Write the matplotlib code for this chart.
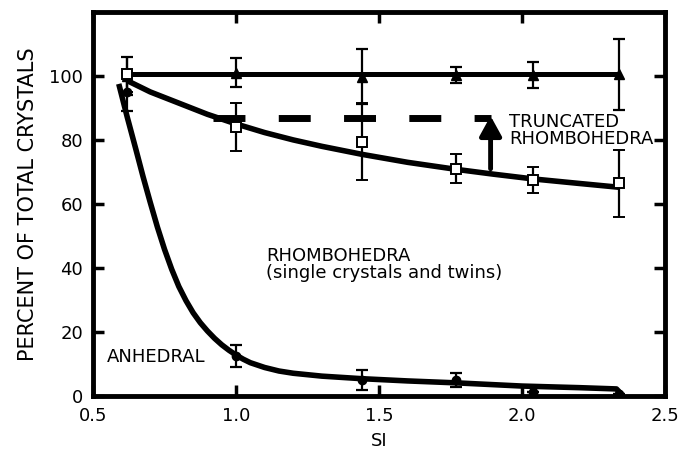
import matplotlib

matplotlib.use("Agg")
import matplotlib.pyplot as plt

# -----------------------------------------------------------------------------
# Data
# -----------------------------------------------------------------------------

SI = [0.62, 1.0, 1.44, 1.77, 2.04, 2.34]

total_pct = [100.0, 101.0, 99.8, 100.2, 100.3, 100.5]
total_err = [6.0, 4.5, 8.5, 2.5, 4.0, 11.0]

rhombo_pct = [100.5, 84.0, 79.5, 71.0, 67.5, 66.5]
rhombo_err = [5.5, 7.5, 12.0, 4.5, 4.0, 10.5]

anhedral_pct = [95.0, 12.5, 5.0, 5.0, 1.3, 0.5]
anhedral_err = [6.0, 3.5, 3.0, 2.3, 0.0, 0.0]

# fitted curves, traced point by point
total_fit_x = [0.62, 2.34]
total_fit_y = [100.5, 100.5]

rhombo_fit_x = [0.62, 0.70, 0.80, 0.90, 1.00, 1.10, 1.20, 1.30, 1.44, 1.60,
                1.77, 1.90, 2.04, 2.20, 2.34]
rhombo_fit_y = [98.5, 95.0, 91.5, 88.0, 85.0, 82.3, 80.0, 78.0, 75.5, 73.0,
                70.8, 69.3, 67.8, 66.4, 65.2]

anhedral_fit_x = [0.59, 0.62, 0.65, 0.675, 0.70, 0.725, 0.75, 0.775, 0.80,
                  0.825, 0.85, 0.875, 0.90, 0.925, 0.95, 0.975, 1.00, 1.025,
                  1.05, 1.10, 1.15, 1.20, 1.30, 1.44, 1.60, 1.77, 2.00, 2.20,
                  2.33, 2.345]
anhedral_fit_y = [97.5, 87.0, 77.0, 68.5, 60.5, 52.8, 45.8, 39.6, 34.2,
                  29.8, 26.0, 22.9, 20.3, 18.0, 16.0, 14.3, 12.8, 11.5,
                  10.4, 8.9, 7.8, 7.1, 6.2, 5.4, 4.7, 4.1, 3.1, 2.6,
                  2.2, 0.8]

truncated_level = 87.0
truncated_x = [0.92, 1.89]
arrow_x = 1.89
arrow_from = 71.0

X_TICKS = [0.5, 1.0, 1.5, 2.0, 2.5]
Y_TICKS = [0, 20, 40, 60, 80, 100]

# -----------------------------------------------------------------------------
# Style
# -----------------------------------------------------------------------------

plt.rcParams["font.family"] = ["DejaVu Sans"]
plt.rcParams["lines.scale_dashes"] = False

FONT_SIZE = 13
CURVE_LW = 4.0
ERR_KW = dict(ecolor="black", elinewidth=1.6, capsize=4, capthick=1.6)

# -----------------------------------------------------------------------------
# Plot
# -----------------------------------------------------------------------------

fig = plt.figure(figsize=(6.81, 4.54), dpi=100)
ax = fig.add_axes([0.1366, 0.1278, 0.84, 0.846])

ax.plot(total_fit_x, total_fit_y, color="black", lw=3.6, solid_capstyle="butt")
ax.plot(rhombo_fit_x, rhombo_fit_y, color="black", lw=CURVE_LW,
        solid_capstyle="butt", solid_joinstyle="round")
ax.plot(anhedral_fit_x, anhedral_fit_y, color="black", lw=CURVE_LW,
        solid_capstyle="butt", solid_joinstyle="round")

ax.errorbar(SI, total_pct, yerr=total_err, fmt="^", ms=7.5, mfc="black",
            mec="black", **ERR_KW)
ax.errorbar(SI, rhombo_pct, yerr=rhombo_err, fmt="s", ms=7, mfc="white",
            mec="black", mew=1.4, **ERR_KW)
ax.errorbar(SI, anhedral_pct, yerr=anhedral_err, fmt="o", ms=6, mfc="black",
            mec="black", **ERR_KW)

# truncated rhombohedra: dashed level and arrow
ax.plot(truncated_x, [truncated_level, truncated_level], color="black", lw=5,
        dashes=(23, 24), solid_capstyle="butt", dash_capstyle="butt")
ax.annotate(
    "",
    xy=(arrow_x, truncated_level + 0.5),
    xytext=(arrow_x, arrow_from),
    arrowprops=dict(
        arrowstyle="-|>,head_length=0.6,head_width=0.33",
        mutation_scale=20,
        lw=3.5,
        color="black",
        shrinkA=0,
        shrinkB=0,
    ),
)

ax.text(1.955, 88.3, "TRUNCATED\nRHOMBOHEDRA", ha="left", va="top",
        fontsize=FONT_SIZE, linespacing=0.9)
ax.text(1.105, 46.5, "RHOMBOHEDRA\n(single crystals and twins)", ha="left",
        va="top", fontsize=FONT_SIZE, linespacing=0.9)
ax.text(0.548, 10.6, "ANHEDRAL", ha="left", va="baseline", fontsize=FONT_SIZE)

ax.set_xlim(0.5, 2.5)
ax.set_ylim(0, 120)
ax.set_xticks(X_TICKS)
ax.set_xticklabels([f"{t:.1f}" for t in X_TICKS])
ax.set_yticks(Y_TICKS)

ax.set_xlabel("SI", fontsize=FONT_SIZE, labelpad=5)
ax.set_ylabel("PERCENT OF TOTAL CRYSTALS", fontsize=15, labelpad=8)

for spine in ax.spines.values():
    spine.set_linewidth(3.5)

ax.tick_params(axis="both", direction="in", length=8, width=2.5,
               labelsize=FONT_SIZE, top=True, right=True)
ax.tick_params(axis="x", pad=8)
ax.tick_params(axis="y", pad=7)

fig.savefig("out.png", dpi=100)
plt.close(fig)
